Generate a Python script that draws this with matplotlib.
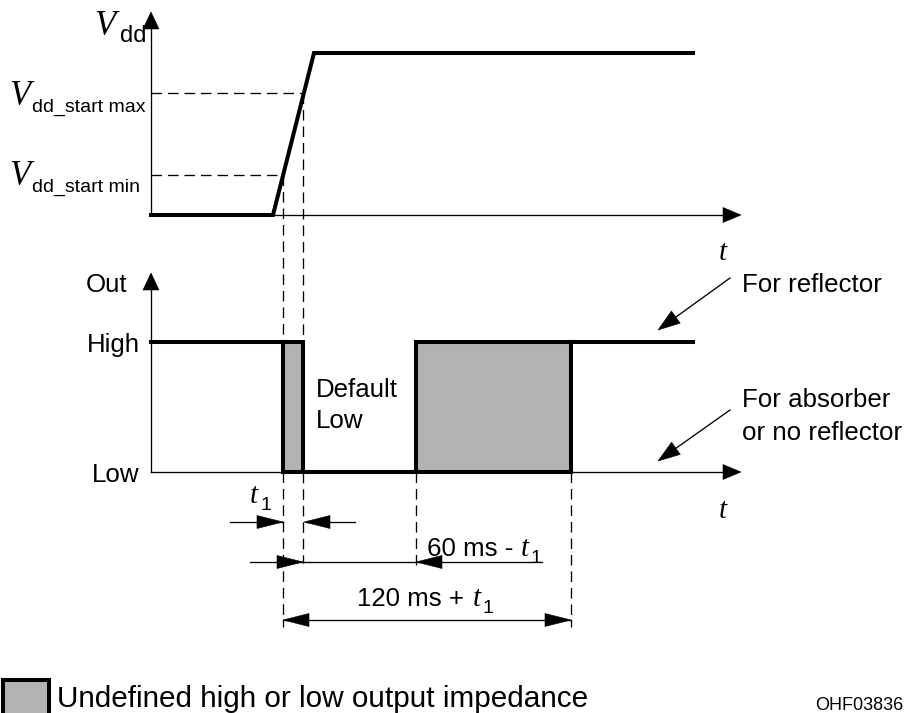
import matplotlib
matplotlib.use("Agg")
import matplotlib.pyplot as plt
import numpy as np
from matplotlib.patches import Polygon, Rectangle

SANS = "Liberation Sans"
SERIF = "Liberation Serif"
GREY = "#b3b3b3"
THICK = 2.9
THIN = 0.95
DASH = (0, (8, 4.5))

# positions along the time axes (px)
t_origin = 151
t_arrow = 741
t_ramp = [273, 314]          # Vdd ramp start / end
t_start_min = 283            # Vdd crosses Vdd_start min
t_start_max = 303            # Vdd crosses Vdd_start max
t_60 = 416                   # 60 ms - t1 after start max
t_120 = 571                  # 120 ms + t1 after start min
t_end = 693                  # end of drawn traces

# levels (px from the top)
vdd_low, vdd_min, vdd_max, vdd_high = 215, 175, 93, 53
vdd_axis_top = 12
out_low, out_high = 472, 342
out_axis_top = 273

# grey "undefined" windows on the output trace
undefined = [(t_start_min, t_start_max), (t_60, t_120)]

# dimension rows (y, px)
dim_t1_y = 522
dim_60_y = 562
dim_120_y = 620


def head(ax, tip, frm, length, half):
    tip = np.asarray(tip, float)
    d = tip - np.asarray(frm, float)
    d /= np.hypot(*d)
    n = np.array([-d[1], d[0]])
    base = tip - d * length
    ax.add_patch(Polygon([tip, base + n * half, base - n * half], closed=True,
                         fc="black", ec="black", lw=0.4, zorder=5))


def sub_label(ax, x, y, main, sub, main_size, sub_size, sub_dx, sub_dy=7, main_font=SERIF):
    ax.text(x, y, main, family=main_font, style="italic", fontsize=main_size,
            ha="left", va="baseline")
    ax.text(x + sub_dx, y + sub_dy, sub, family=SANS, fontsize=sub_size,
            ha="left", va="baseline")


fig = plt.figure(figsize=(9.13, 7.13), dpi=100)
ax = fig.add_axes([0, 0, 1, 1])
ax.set_xlim(0, 913)
ax.set_ylim(713, 0)
ax.axis("off")

# --- Vdd panel ---
ax.plot([t_origin, t_origin], [vdd_low, vdd_axis_top + 15], color="black", lw=THIN)
head(ax, (t_origin, vdd_axis_top), (t_origin, vdd_low), 17, 8)
ax.plot([t_origin, t_arrow - 15], [vdd_low, vdd_low], color="black", lw=THIN)
head(ax, (t_arrow, vdd_low), (t_origin, vdd_low), 18, 7.5)
ax.plot([t_origin, t_start_max], [vdd_max, vdd_max], color="black", lw=THIN, ls=DASH)
ax.plot([t_origin, t_start_min], [vdd_min, vdd_min], color="black", lw=THIN, ls=DASH)
ax.plot([t_origin, t_ramp[0], t_ramp[1], t_end], [vdd_low, vdd_low, vdd_high, vdd_high],
        color="black", lw=THICK, solid_joinstyle="miter", zorder=4)

# --- Out panel ---
ax.plot([t_origin, t_origin], [out_low, out_axis_top + 15], color="black", lw=THIN)
head(ax, (t_origin, out_axis_top), (t_origin, out_low), 17, 8)
ax.plot([t_origin, t_arrow - 15], [out_low, out_low], color="black", lw=THIN)
head(ax, (t_arrow, out_low), (t_origin, out_low), 18, 7.5)
for x0, x1 in undefined:
    ax.add_patch(Rectangle((x0, out_high), x1 - x0, out_low - out_high, fc=GREY,
                           ec="black", lw=THICK, zorder=3, joinstyle="miter"))
ax.plot([t_origin, t_start_min], [out_high, out_high], color="black", lw=THICK, zorder=4)
ax.plot([t_start_max, t_60], [out_low, out_low], color="black", lw=THICK, zorder=4)
ax.plot([t_120, t_end], [out_high, out_high], color="black", lw=THICK, zorder=4)

# --- dashed timing guides ---
ax.plot([t_start_min] * 2, [vdd_min, dim_120_y + 7], color="black", lw=THIN, ls=DASH)
ax.plot([t_start_max] * 2, [vdd_max, dim_60_y + 1], color="black", lw=THIN, ls=DASH)
ax.plot([t_60] * 2, [out_low, dim_60_y + 8], color="black", lw=THIN, ls=DASH)
ax.plot([t_120] * 2, [out_low, dim_120_y + 7], color="black", lw=THIN, ls=DASH)

# --- dimension arrows ---
ax.plot([230, t_start_min], [dim_t1_y] * 2, color="black", lw=THIN)
head(ax, (t_start_min, dim_t1_y), (230, dim_t1_y), 26, 6.5)
ax.plot([t_start_max + 3, 355], [dim_t1_y] * 2, color="black", lw=THIN)
head(ax, (t_start_max + 1, dim_t1_y), (355, dim_t1_y), 26, 6.5)

ax.plot([250, 542], [dim_60_y] * 2, color="black", lw=THIN)
head(ax, (t_start_max, dim_60_y), (250, dim_60_y), 26, 6.5)
head(ax, (t_60, dim_60_y), (542, dim_60_y), 26, 6.5)

ax.plot([t_start_min, t_120], [dim_120_y] * 2, color="black", lw=THIN)
head(ax, (t_start_min, dim_120_y), (t_120, dim_120_y), 26, 6.5)
head(ax, (t_120, dim_120_y), (t_start_min, dim_120_y), 26, 6.5)

# --- pointer arrows ---
for y_from, y_tip in [(278, 330), (410, 461)]:
    ax.plot([730, 665], [y_from, y_from + (y_tip - y_from) * 65 / 72], color="black", lw=THIN)
    head(ax, (658, y_tip), (730, y_from), 22, 7.5)

# --- texts ---
sub_label(ax, 94, 35, "V", "dd", 25, 17, 26)
sub_label(ax, 9, 105, "V", "dd_start max", 25, 14, 23)
sub_label(ax, 9, 185, "V", "dd_start min", 25, 14, 23)

ax.text(723, 260, "t", family=SERIF, style="italic", fontsize=21, ha="center", va="baseline")
ax.text(723, 518, "t", family=SERIF, style="italic", fontsize=21, ha="center", va="baseline")

fs = 18.6
ax.text(86, 292, "Out", family=SANS, fontsize=fs, ha="left", va="baseline")
ax.text(87, 352, "High", family=SANS, fontsize=fs, ha="left", va="baseline")
ax.text(92, 482, "Low", family=SANS, fontsize=fs, ha="left", va="baseline")
ax.text(316, 397, "Default", family=SANS, fontsize=fs, ha="left", va="baseline")
ax.text(316, 428, "Low", family=SANS, fontsize=fs, ha="left", va="baseline")
ax.text(742, 292, "For reflector", family=SANS, fontsize=fs, ha="left", va="baseline")
ax.text(742, 407, "For absorber", family=SANS, fontsize=fs, ha="left", va="baseline")
ax.text(742, 440, "or no reflector", family=SANS, fontsize=fs, ha="left", va="baseline")

sub_label(ax, 250, 503, "t", "1", 21, 14, 10)
ax.text(427, 556, "60 ms -", family=SANS, fontsize=fs, ha="left", va="baseline")
sub_label(ax, 521, 556, "t", "1", 21, 14, 10)
ax.text(357, 606, "120 ms +", family=SANS, fontsize=fs, ha="left", va="baseline")
sub_label(ax, 473, 606, "t", "1", 21, 14, 10)

# --- legend ---
ax.add_patch(Rectangle((3, 680), 46, 45, fc=GREY, ec="black", lw=THICK, clip_on=True))
ax.text(57, 707, "Undefined high or low output impedance", family=SANS, fontsize=21.4,
        ha="left", va="baseline")
ax.text(815, 710, "OHF03836", family=SANS, fontsize=13, ha="left", va="baseline")

fig.savefig("out.png", dpi=100)
